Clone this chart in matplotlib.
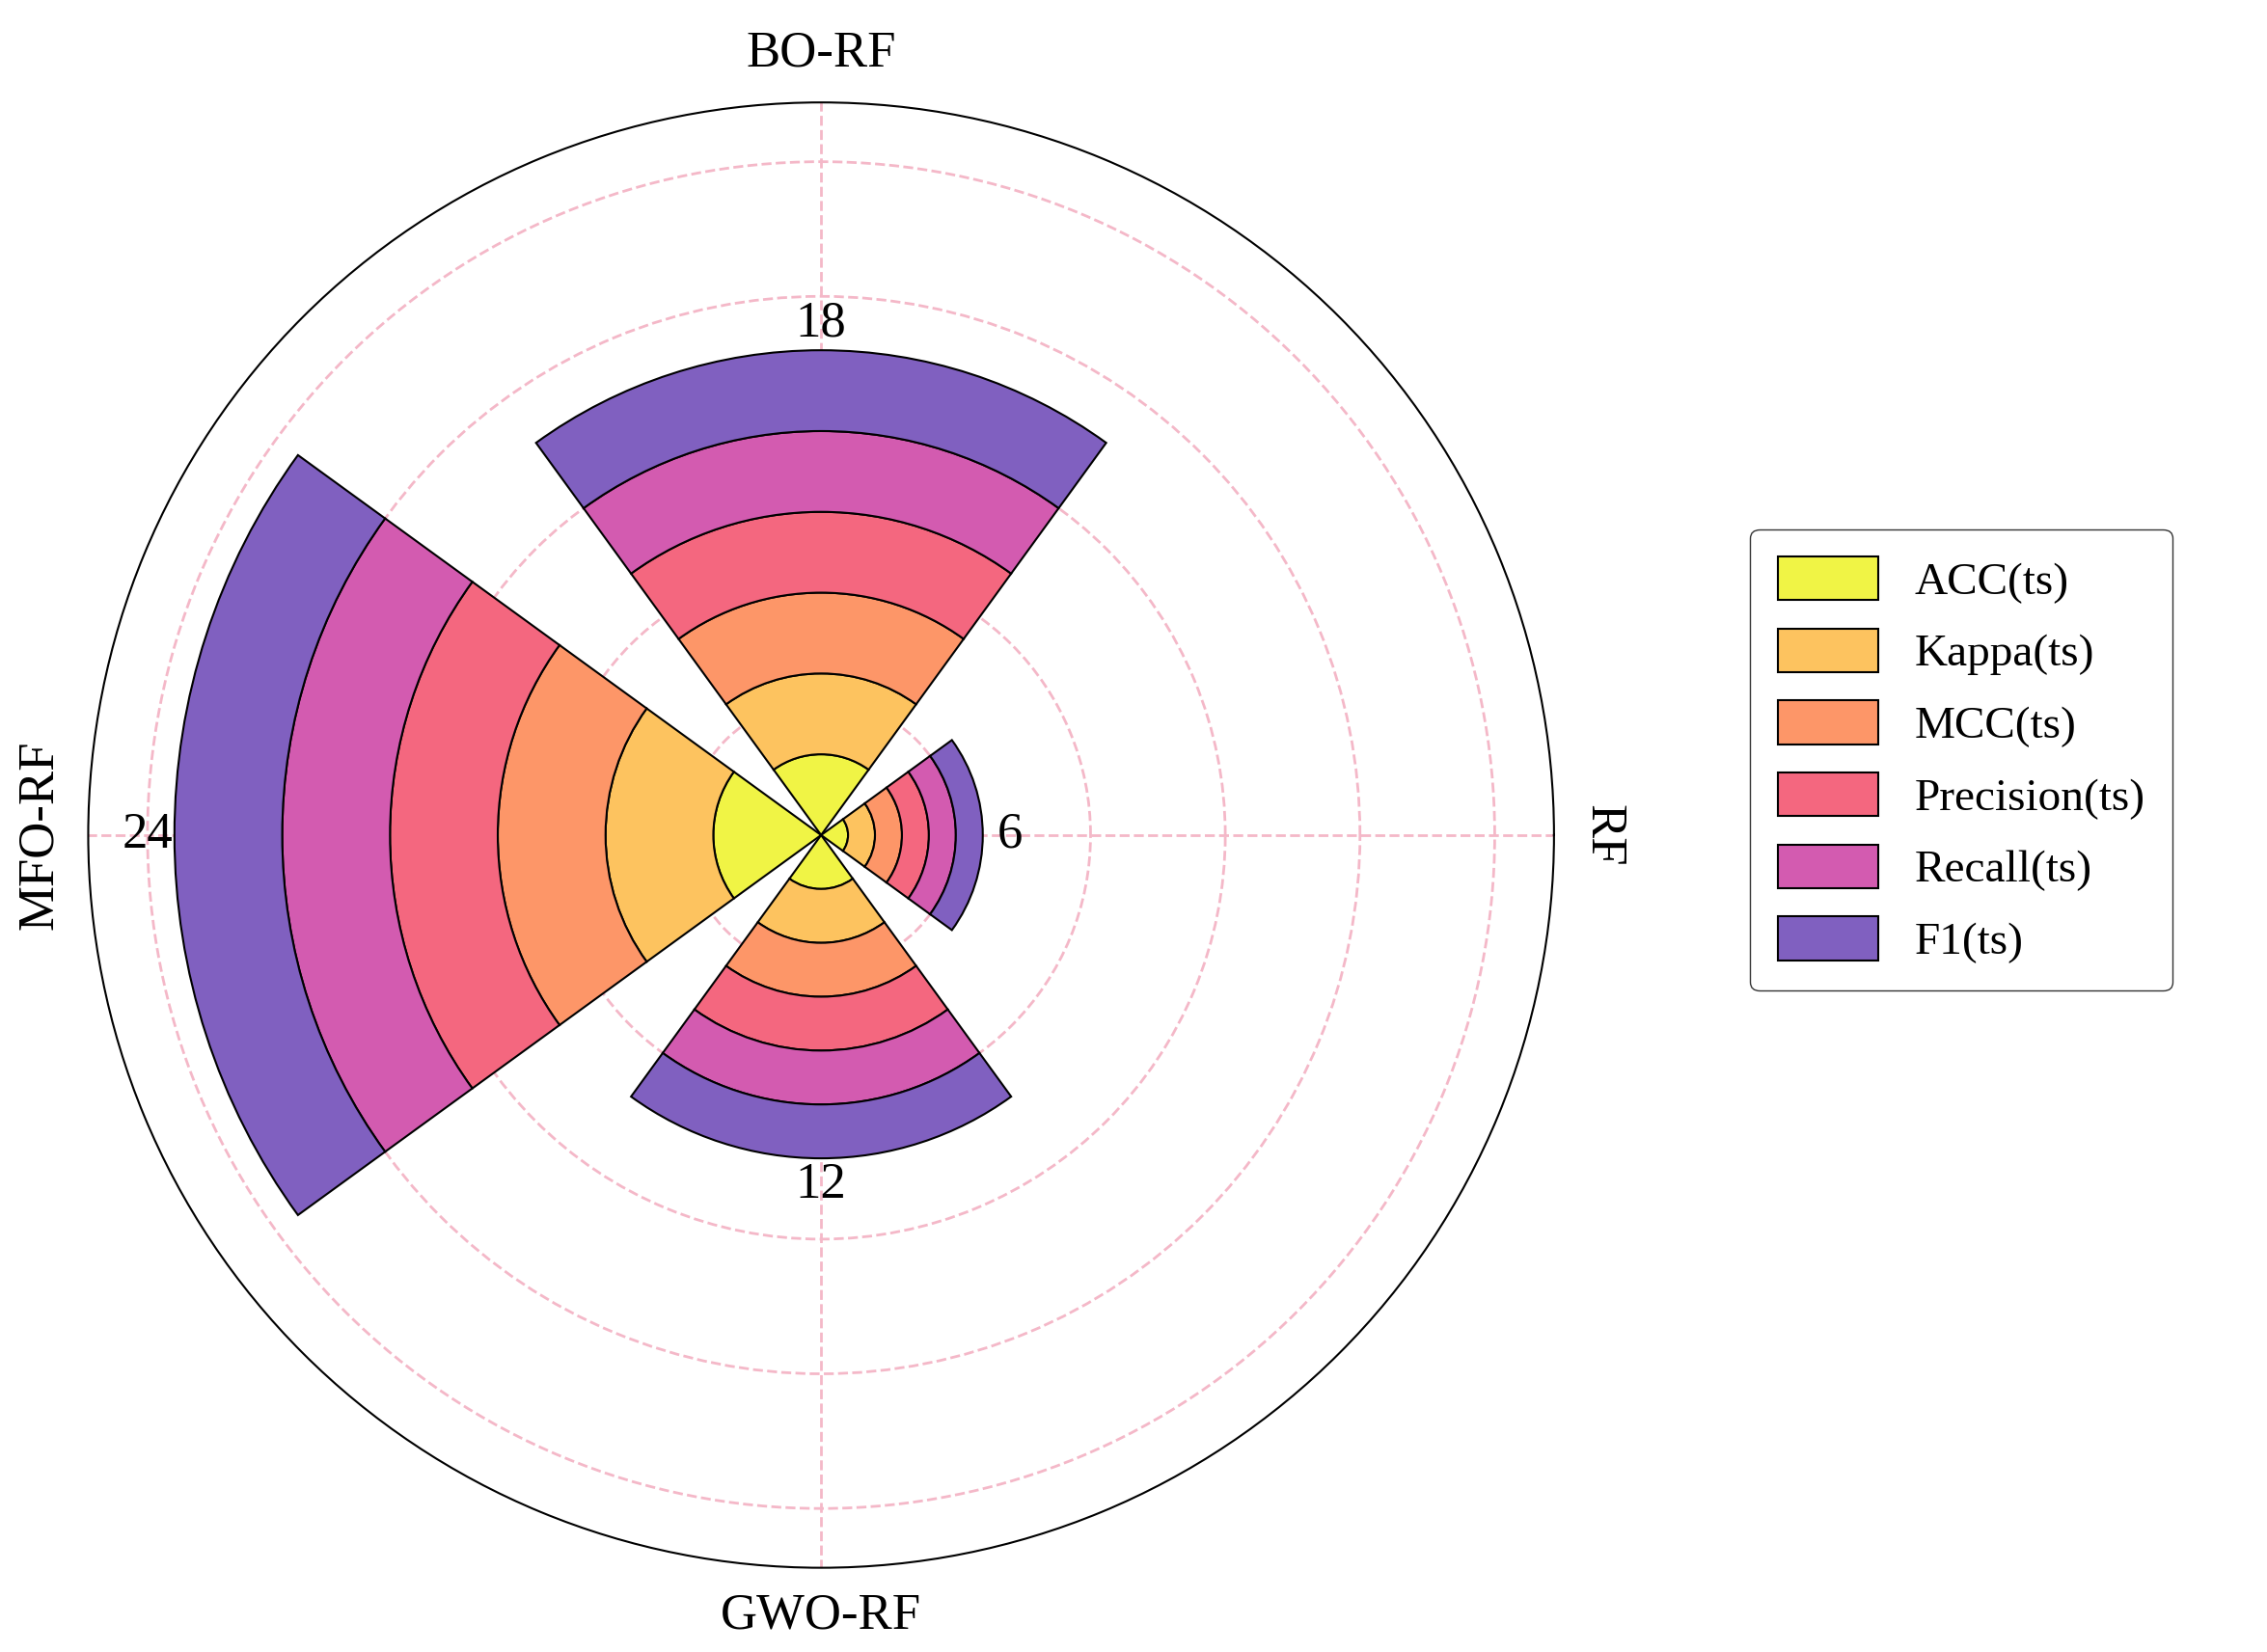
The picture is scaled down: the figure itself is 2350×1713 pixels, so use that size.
import numpy as np
import matplotlib
matplotlib.use("Agg")
import matplotlib.pyplot as plt

plt.rcParams['font.family'] = ['Liberation Serif', 'DejaVu Serif']

models = ["RF", "BO-RF", "MFO-RF", "GWO-RF"]
metrics = ["ACC(ts)", "Kappa(ts)", "MCC(ts)", "Precision(ts)", "Recall(ts)", "F1(ts)"]
scores = {
    "ACC(ts)":       [1, 3, 4, 2],
    "Kappa(ts)":     [1, 3, 4, 2],
    "MCC(ts)":       [1, 3, 4, 2],
    "Precision(ts)": [1, 3, 4, 2],
    "Recall(ts)":    [1, 3, 4, 2],
    "F1(ts)":        [1, 3, 4, 2],
}
colors = ["#f0f445", "#fdc35f", "#fd9668", "#f4677f", "#d35bb0", "#8060c0"]

fig = plt.figure(figsize=(23.5, 17.13), dpi=100)
ax = fig.add_axes([0.0387, 0.051, 0.647, 0.887], projection='polar')
theta = np.arange(len(models)) * 2 * np.pi / len(models)
width = 2 * np.pi / len(models) * 0.8

bottom = np.zeros(len(models))
handles = []
for m, c in zip(metrics, colors):
    v = np.array(scores[m], dtype=float)
    b = ax.bar(theta, v, width=width, bottom=bottom, color=c, edgecolor='black', linewidth=1.5, label=m, zorder=3)
    handles.append(b)
    bottom += v

for t, tot in zip(theta, bottom):
    ax.text(t, tot + 1.0, f"{int(tot)}", ha='center', va='center', fontsize=38, zorder=4)

ax.set_ylim(0, 27.2)
ax.set_yticks([5, 10, 15, 20, 25])
ax.set_yticklabels([])
ax.set_xticks(theta)
ax.set_xticklabels([])
ax.grid(True, color='#f4b8c8', linestyle='--', linewidth=2)
ax.spines['polar'].set_linewidth(1.5)

label_r = 29.0
rots = [270, 0, 90, 0]
for t, name, rot in zip(theta, models, rots):
    ax.text(t, label_r, name, ha='center', va='center', rotation=rot, fontsize=38)

fig.legend(handles=handles, labels=metrics, loc='center left', bbox_to_anchor=(0.762, 0.54),
           fontsize=34, frameon=True, edgecolor='black', fancybox=True,
           handlelength=2.2, handleheight=1.1, labelspacing=0.55, borderpad=0.6)

fig.savefig("out.png", dpi=100)
